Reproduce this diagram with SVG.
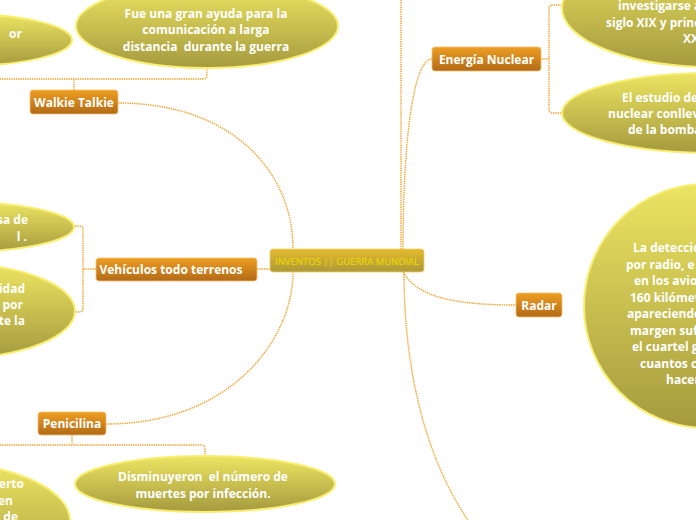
<svg xmlns="http://www.w3.org/2000/svg" width="696" height="520" viewBox="0 0 696 520">
<defs>
<linearGradient id="gNode" x1="0" y1="0" x2="0" y2="1"><stop offset="0" stop-color="#ee9e22"/><stop offset="1" stop-color="#b26a16"/></linearGradient>
<linearGradient id="gRoot" x1="0" y1="0" x2="0" y2="1"><stop offset="0" stop-color="#e2ba2c"/><stop offset="1" stop-color="#ad993a"/></linearGradient>
<linearGradient id="gEll" x1="0" y1="0" x2="0" y2="1"><stop offset="0" stop-color="#ece462"/><stop offset="1" stop-color="#a59a3e"/></linearGradient>
</defs>
<style>
.conn{fill:none;stroke:#f3a22a;stroke-width:1.4;stroke-dasharray:1.4 0.9}
.node rect{fill:url(#gNode);stroke:#f4c070;stroke-width:0.8}
.node text{font-family:"Open Sans","Noto Sans",sans-serif;font-weight:bold;font-size:12px;fill:#ffffff}
.leaf ellipse{fill:url(#gEll);stroke:#f8ee70;stroke-width:2}
.leaf text{font-family:"Open Sans","Noto Sans",sans-serif;font-weight:bold;font-size:12px;fill:#ffffff;white-space:pre}
.root rect{fill:url(#gRoot);stroke:#f0d070;stroke-width:0.8}
.root text{font-family:"Open Sans","Noto Sans",sans-serif;font-size:9px;fill:#eedd00}
</style>
<g id="connectors">
<path class="conn" d="M118,103 C230,103 293,170 293,249"/>
<path class="conn" d="M106,424 C230,424 293,340 293,272"/>
<path class="conn" d="M257,269 L270,269"/>
<path class="conn" d="M432,59 C412,59 403,150 403,249"/>
<path class="conn" d="M401,-5 L401,249"/>
<path class="conn" d="M403,272 C415,292 440,305 516,305"/>
<path class="conn" d="M404,272 C404,380 430,470 475,530"/>
<path class="conn" d="M74,90 L74,79 M-5,79 L203,79 Q207,79 207,75 L207,68"/>
<path class="conn" d="M541,59 L549,59 M562,5 L553,5 Q549,5 549,9 L549,109 Q549,113 553,113 L562,113"/>
<path class="conn" d="M96,269 L83,269 M75,226 L79,226 Q83,226 83,230 L83,308 Q83,312 79,312 L75,312"/>
<path class="conn" d="M72,435 L72,445 M-5,445 L201,445 Q205,445 205,449 L205,456"/>
</g>
<g id="root" class="root">
<rect x="270" y="249" width="154" height="23" rx="3"/>
<text x="347" y="265" text-anchor="middle" textLength="144" lengthAdjust="spacingAndGlyphs">INVENTOS || GUERRA MUNDIAL</text>
</g>
<g id="walkie" class="node">
<rect x="30" y="90" width="88" height="24" rx="3"/>
<text x="74" y="106.5" text-anchor="middle">Walkie Talkie</text>
</g>
<g id="vehiculos" class="node">
<rect x="96" y="258" width="161" height="23" rx="3"/>
<text x="171" y="274" text-anchor="middle">Vehículos todo terrenos</text>
</g>
<g id="penicilina" class="node">
<rect x="38" y="412" width="68" height="23" rx="3"/>
<text x="72" y="428" text-anchor="middle">Penicilina</text>
</g>
<g id="nuclear" class="node">
<rect x="432" y="47" width="109" height="24" rx="3"/>
<text x="486.5" y="63.5" text-anchor="middle">Energía Nuclear</text>
</g>
<g id="radar" class="node">
<rect x="516" y="293" width="46" height="24" rx="3"/>
<text x="539" y="309.5" text-anchor="middle">Radar</text>
</g>
<g id="walkie-a" class="leaf">
<ellipse cx="-40" cy="40" rx="112" ry="26"/>
<text x="22" y="38" text-anchor="end">or</text>
</g>
<g id="walkie-b" class="leaf">
<ellipse cx="207" cy="26" rx="131" ry="42"/>
<text x="206" y="18" text-anchor="middle">Fue una gran ayuda para la</text>
<text x="206" y="34" text-anchor="middle">comunicación a larga</text>
<text x="206" y="51" text-anchor="middle" xml:space="preserve">distancia  durante la guerra</text>
</g>
<g id="nuclear-a" class="leaf">
<ellipse cx="712" cy="8" rx="150" ry="59"/>
<text x="618" y="10">investigarse a</text>
<text x="606" y="27">siglo XIX y princ</text>
<text x="683" y="43">XX</text>
</g>
<g id="nuclear-b" class="leaf">
<ellipse cx="712" cy="113" rx="150" ry="40"/>
<text x="622" y="102">El estudio de</text>
<text x="608" y="118">nuclear conllev</text>
<text x="628" y="134">de la bomba</text>
</g>
<g id="radar-a" class="leaf">
<ellipse cx="706" cy="306" rx="122" ry="122"/>
<text x="633" y="252">La detecció</text>
<text x="626" y="269">por radio, e</text>
<text x="634" y="285">en los avio</text>
<text x="630" y="302">160 kilómet</text>
<text x="627" y="318">apareciendo</text>
<text x="630" y="335">margen suf</text>
<text x="632" y="351">el cuartel g</text>
<text x="640" y="368">cuantos c</text>
<text x="666" y="384">hacer</text>
</g>
<g id="vehiculos-a" class="leaf">
<ellipse cx="-45" cy="227" rx="119" ry="25"/>
<text x="28" y="224" text-anchor="end">sa de</text>
<text x="27" y="241" text-anchor="end">l .</text>
</g>
<g id="vehiculos-b" class="leaf">
<ellipse cx="-45" cy="311" rx="120" ry="47"/>
<text x="25" y="293" text-anchor="end">idad</text>
<text x="23" y="309" text-anchor="end">por</text>
<text x="25" y="325" text-anchor="end">te la</text>
</g>
<g id="penicilina-a" class="leaf">
<ellipse cx="-60" cy="521" rx="130" ry="58"/>
<text x="24" y="488" text-anchor="end">erto</text>
<text x="13" y="505" text-anchor="end">en</text>
<text x="18" y="521" text-anchor="end">s de</text>
</g>
<g id="penicilina-b" class="leaf">
<ellipse cx="205" cy="484" rx="130" ry="28"/>
<text x="203" y="481" text-anchor="middle" xml:space="preserve">Disminuyeron  el número de</text>
<text x="203" y="498" text-anchor="middle">muertes por infección.</text>
</g>
</svg>
